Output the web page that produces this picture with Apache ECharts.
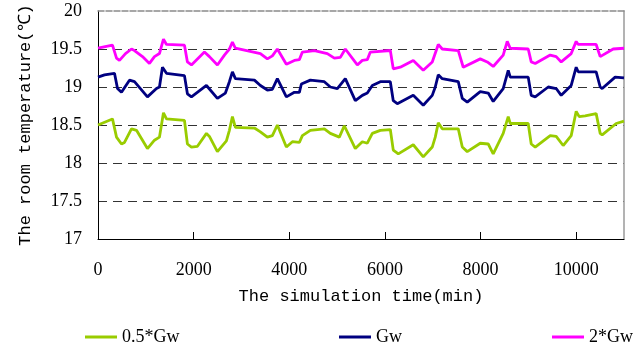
<!DOCTYPE html>
<html>
<head>
<meta charset="utf-8">
<script src="https://cdn.jsdelivr.net/npm/echarts@6/dist/echarts.min.js"></script>
<style>
  html, body { margin: 0; padding: 0; background: #fff; }
  #chart { width: 637px; height: 356px; }
</style>
</head>
<body>
<div id="chart"></div>
<script>
// Room temperature over the simulation for three water flow rates.
// Times in minutes, temperatures in degrees Celsius.
const seriesNames = ['0.5*Gw', 'Gw', '2*Gw'];

const halfFlowTime = [0, 303, 387, 491, 554, 700, 805, 1034, 1181, 1285, 1369, 1432, 1808, 1870, 1954, 2080,
  2268, 2330, 2497, 2685, 2748, 2811, 2873, 3271, 3396, 3542, 3647, 3751, 3939, 4065, 4211, 4274, 4441,
  4733, 4859, 5047, 5151, 5381, 5528, 5632, 5737, 5904, 6113, 6175, 6280, 6593, 6802, 6990, 7053, 7116,
  7199, 7534, 7618, 7722, 7994, 8161, 8265, 8474, 8579, 8621, 8997, 9060, 9143, 9457, 9582, 9728, 9896,
  10000, 10063, 10188, 10418, 10502, 10544, 10836, 11000];
const halfFlowTemp = [18.50, 18.58, 18.34, 18.25, 18.27, 18.45, 18.43, 18.19, 18.30, 18.34, 18.66, 18.58, 18.56, 18.25, 18.21, 18.22,
  18.39, 18.35, 18.15, 18.29, 18.43, 18.61, 18.47, 18.46, 18.41, 18.34, 18.36, 18.50, 18.21, 18.28, 18.27, 18.36, 18.43,
  18.45, 18.39, 18.34, 18.49, 18.19, 18.28, 18.26, 18.39, 18.43, 18.44, 18.17, 18.12, 18.24, 18.08, 18.21, 18.34, 18.53,
  18.45, 18.45, 18.21, 18.15, 18.26, 18.25, 18.12, 18.39, 18.61, 18.52, 18.52, 18.25, 18.21, 18.36, 18.35, 18.23, 18.36,
  18.68, 18.61, 18.62, 18.65, 18.39, 18.37, 18.52, 18.55];

const baseFlowTime = [0, 136, 345, 408, 491, 658, 763, 1034, 1223, 1285, 1348, 1432, 1808, 1870, 1954, 2268,
  2497, 2664, 2748, 2811, 2873, 3271, 3396, 3542, 3647, 3751, 3939, 4107, 4211, 4253, 4441, 4733, 4859,
  5005, 5172, 5381, 5528, 5632, 5737, 5904, 6113, 6175, 6259, 6593, 6802, 6990, 7053, 7116, 7199, 7534,
  7618, 7722, 7994, 8161, 8265, 8474, 8579, 8621, 8997, 9060, 9143, 9415, 9582, 9687, 9896, 10000, 10042,
  10418, 10502, 10544, 10815, 11000];
const baseFlowTemp = [19.13, 19.16, 19.18, 18.98, 18.93, 19.09, 19.07, 18.87, 18.98, 19.00, 19.26, 19.18, 19.15, 18.91, 18.87, 19.02,
  18.85, 18.92, 19.07, 19.20, 19.11, 19.09, 19.02, 18.96, 18.97, 19.11, 18.87, 18.93, 18.93, 19.04, 19.09, 19.07, 19.00,
  18.98, 19.11, 18.82, 18.89, 18.92, 19.02, 19.07, 19.07, 18.82, 18.78, 18.89, 18.76, 18.89, 19.00, 19.16, 19.11, 19.07,
  18.85, 18.80, 18.94, 18.92, 18.81, 18.98, 19.22, 19.13, 19.13, 18.89, 18.87, 19.00, 18.98, 18.89, 19.02, 19.26, 19.20,
  19.20, 19.00, 18.98, 19.13, 19.12];

const doubleFlowTime = [0, 303, 387, 449, 575, 700, 763, 930, 1076, 1181, 1285, 1369, 1432, 1808, 1870, 1954,
  2226, 2330, 2497, 2644, 2748, 2811, 2873, 3396, 3542, 3647, 3751, 3939, 4107, 4211, 4274, 4525, 4796,
  4943, 5068, 5172, 5423, 5528, 5632, 5695, 6113, 6175, 6322, 6593, 6802, 6990, 7116, 7199, 7534, 7638,
  7994, 8140, 8265, 8474, 8558, 8621, 8997, 9060, 9143, 9457, 9582, 9687, 9896, 10000, 10042, 10418,
  10502, 10774, 11000];
const doubleFlowTemp = [19.51, 19.55, 19.38, 19.35, 19.44, 19.50, 19.48, 19.40, 19.31, 19.40, 19.44, 19.63, 19.56, 19.55, 19.33, 19.29,
  19.46, 19.40, 19.29, 19.42, 19.50, 19.59, 19.51, 19.44, 19.37, 19.41, 19.50, 19.30, 19.35, 19.36, 19.46, 19.48, 19.44,
  19.38, 19.39, 19.50, 19.29, 19.35, 19.36, 19.46, 19.48, 19.24, 19.26, 19.35, 19.22, 19.33, 19.56, 19.50, 19.48, 19.26,
  19.37, 19.33, 19.27, 19.42, 19.60, 19.51, 19.50, 19.33, 19.31, 19.42, 19.40, 19.33, 19.44, 19.60, 19.56, 19.56,
  19.40, 19.50, 19.51];

const xTicks = [0, 2000, 4000, 6000, 8000, 10000];
const yTickLabels = ['17', '17.5', '18', '18.5', '19', '19.5', '20'];

const colors = ['#99CC00', '#000080', '#FF00FF'];
const numFont = '"Liberation Serif", "Times New Roman", serif';
const titleFont = '"Liberation Mono", "Courier New", monospace';

function pairs(ts, vs) { return ts.map((t, i) => [t, vs[i]]); }

const chart = echarts.init(document.getElementById('chart'), null, { renderer: 'canvas' });

const legendAt = [85, 339, 552];

chart.setOption({
  animation: false,
  backgroundColor: '#ffffff',
  grid: { left: 98, right: 13, top: 11, bottom: 117 },
  legend: seriesNames.map((n, i) => ({
    data: [n],
    left: legendAt[i],
    top: 328,
    padding: 0,
    icon: 'rect',
    itemWidth: 32,
    itemHeight: 3,
    itemGap: 0,
    textStyle: { fontFamily: numFont, fontSize: 18, color: '#000' }
  })),
  xAxis: [{
    type: 'value',
    min: 0,
    max: 11000,
    interval: 2000,
    name: 'The simulation time(min)',
    nameLocation: 'middle',
    nameGap: 49,
    nameTextStyle: { fontFamily: titleFont, fontSize: 17, color: '#000' },
    axisLine: { show: true, lineStyle: { color: '#000', width: 1 } },
    axisTick: { show: true, inside: true, length: 7, lineStyle: { color: '#000' } },
    axisLabel: {
      fontFamily: numFont, fontSize: 18, color: '#000', margin: 22,
      showMaxLabel: false,
      formatter: v => (xTicks.indexOf(v) >= 0 ? String(v) : '')
    },
    splitLine: { show: false }
  }, {
    type: 'value',
    position: 'top',
    min: 0,
    max: 11000,
    axisLine: { show: true, onZero: false, lineStyle: { color: '#8a8a8a', width: 1.5, type: [6, 2] } },
    axisTick: { show: false },
    axisLabel: { show: false },
    splitLine: { show: false }
  }],
  yAxis: [{
    type: 'value',
    min: 17,
    max: 20,
    interval: 0.5,
    name: 'The room temperature(\u2103)',
    nameLocation: 'middle',
    nameGap: 64,
    nameTextStyle: { fontFamily: titleFont, fontSize: 17, color: '#000' },
    axisLine: { show: true, lineStyle: { color: '#000', width: 1 } },
    axisTick: { show: false },
    axisLabel: {
      fontFamily: numFont, fontSize: 18, color: '#000', margin: 16,
      formatter: v => yTickLabels[Math.round((v - 17) * 2)]
    },
    splitLine: {
      show: true,
      showMinLine: false,
      showMaxLine: false,
      lineStyle: { color: '#333', width: 1, type: [9, 6] }
    }
  }, {
    type: 'value',
    position: 'right',
    min: 17,
    max: 20,
    axisLine: { show: true, onZero: false, lineStyle: { color: '#9a9a9a', width: 1.5 } },
    axisTick: { show: false },
    axisLabel: { show: false },
    splitLine: { show: false }
  }],
  series: [
    { name: seriesNames[0], data: pairs(halfFlowTime, halfFlowTemp) },
    { name: seriesNames[1], data: pairs(baseFlowTime, baseFlowTemp) },
    { name: seriesNames[2], data: pairs(doubleFlowTime, doubleFlowTemp) }
  ].map((s, i) => ({
    type: 'line',
    name: s.name,
    data: s.data,
    xAxisIndex: 0,
    yAxisIndex: 0,
    showSymbol: false,
    symbol: 'none',
    lineStyle: { color: colors[i], width: 2.8 },
    itemStyle: { color: colors[i] },
    z: 3
  }))
});
</script>
</body>
</html>
